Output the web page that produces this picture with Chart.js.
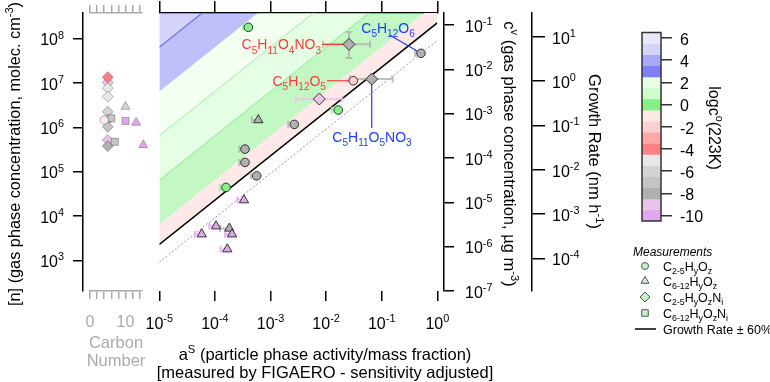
<!DOCTYPE html>
<html>
<head>
<meta charset="utf-8">
<script src="https://cdn.jsdelivr.net/npm/chart.js@4.4.1/dist/chart.umd.min.js"></script>
<style>
  html, body { margin: 0; padding: 0; background: #fff; }
  #wrap { position: relative; width: 770px; height: 382px; overflow: hidden; }
  canvas { position: absolute; left: 0; top: 0; }
</style>
</head>
<body>
<div id="wrap">
  <canvas id="carbon" width="770" height="382"></canvas>
  <canvas id="main" width="770" height="382"></canvas>
  <canvas id="cbar" width="770" height="382"></canvas>
</div>
<script>
// ---------------- values ----------------

// colour classes: log10 c° at 223 K
const classValues = [6, 5, 4, 3, 2, 1, 0, -1, -2, -3, -4, -5, -6, -7, -8, -9, -10];
const classColors = ['#e8e8fc', '#d5d5fa', '#a8a8f8', '#8080f4', '#e8ffe4', '#ccffcc', '#88f088',
                     '#ffe8e8', '#ffd0d0', '#ffa8a8', '#ff8080', '#e8e8e8', '#d4d4d4', '#c4c4c4',
                     '#b0b0b0', '#e8c4ec', '#e0a8ec'];
const classTicks = [6, 4, 2, 0, -2, -4, -6, -8, -10];

// axes
const aTicks = [1e-5, 1e-4, 1e-3, 1e-2, 1e-1, 1];
const cvTicks = [1e-7, 1e-6, 1e-5, 1e-4, 1e-3, 1e-2, 1e-1];
const grTicks = [1e-4, 1e-3, 1e-2, 1e-1, 1, 10];
const nTicks = [1e3, 1e4, 1e5, 1e6, 1e7, 1e8];
const carbonTicks = [0, 2, 4, 6, 8, 10, 12, 14];
const carbonLabels = [0, 10];
const cvMin = 1e-7, cvMax = 0.1866;
const grPerCv = 184;     // growth rate axis = c^v * 184
const nPerCv = 2.04e9;   // [n] axis = c^v * 2.04e9

// shaded bands: log10 c° boundaries and the class above each boundary
const bandEdges = [3.5, 2.5, 1.5, 0.5, -0.5];
const bandClasses = [4, 3, 2, 1, 0];
const bandLineColors = ['#6f6ff2', 'rgba(0,0,0,0)', '#b8f2b8', '#a4eea4', 'rgba(0,0,0,0)'];
const growthLogC = -0.95;
const growthSpread = [1.6, 0.4];   // +/- 60 %

// measurements, main panel (a^S, c^v)
const circA   = [4.0e-4, 0.509, 0.0308, 0.01656, 0.00268, 3.48e-4, 3.48e-4, 5.65e-4, 1.585e-4];
const circCv  = [0.0887, 0.0230, 0.00553, 0.001205, 5.73e-4, 1.59e-4, 7.96e-5, 3.96e-5, 2.17e-5];
const circCls = [0, -8, -2, 0, -8, -8, -8, -8, 0];
const circALo = [3.24e-4, 0.398, 0.0234, 0.01262, 0.00209, 2.75e-4, 2.75e-4, 4.41e-4, 1.236e-4];

const triA   = [6.04e-4, 3.33e-4, 1.047e-4, 1.816e-4, 5.79e-5, 2.03e-4, 1.67e-4];
const triCv  = [7.18e-4, 1.122e-5, 2.90e-6, 2.58e-6, 1.91e-6, 1.91e-6, 8.79e-7];
const triCls = [-8, -10, -10, -8, -10, -10, -10];
const triALo = [4.59e-4, 2.53e-4, 7.93e-5, 1.236e-4, 4.39e-5, 1.52e-4, 1.27e-4];

const diaA    = [0.0258, 0.0661, 0.00755];
const diaCv   = [0.0366, 0.00604, 0.00214];
const diaCls  = [-8, -8, -9];
const diaALo  = [0.00879, 0.0269, 0.00284];
const diaAHi  = [0.0617, 0.158, 0.0195];
const diaCvLo = [0.0180, null, null];
const diaCvHi = [0.0695, null, null];

// compound tags
const tagTexts  = ['C_{5}H_{11}O_{4}NO_{3}', 'C_{5}H_{12}O_{5}', 'C_{5}H_{12}O_{6}', 'C_{5}H_{11}O_{5}NO_{3}'];
const tagColors = ['#ff3c3c', '#ff3c3c', '#1f3fff', '#1f3fff'];
const tagAlign  = ['right', 'right', 'center', 'center'];
const tagAt     = [[0.00809, 0.0366], [0.00995, 0.00553], [0.130, 0.0856], [0.0670, 2.96e-4]];
const tagFrom   = [[0.00843, 0.0366], [0.01038, 0.00553], [0.139, 0.0594], [0.0661, 4.73e-4]];
const tagTo     = [[0.0258, 0.0366], [0.0308, 0.00553], [0.509, 0.0230], [0.0661, 0.00604]];

// carbon number panel
const cDiaC   = [5, 5, 5, 5, 5, 5, 5, 5, 5];
const cDiaN   = [1.03e7, 1.36e7, 7.67e6, 4.95e6, 2.26e6, 1.47e6, 1.04e6, 5.19e5, 3.79e5];
const cDiaCls = [-9, -4, -5, -5, -6, -7, -7, -9, -8];
const cSqC    = [6, 7, 10];
const cSqN    = [1.607e6, 4.74e5, 1.40e6];
const cSqCls  = [-7, -7, -10];
const cTriC   = [10, 13, 15];
const cTriN   = [2.94e6, 1.28e6, 4.0e5];
const cTriCls = [-6, -10, -10];
const cCircC   = [4];
const cCircN   = [1.47e6];
const cCircCls = [-1];

// legend
const legendStyles = ['circle', 'triangle', 'rectRot', 'rect'];
const legendRadii  = [3.5, 4.6, 5, 4.6];
const legendTexts  = ['C_{2-5}H_{y}O_{z}', 'C_{6-12}H_{y}O_{z}', 'C_{2-5}H_{y}O_{z}N_{i}', 'C_{6-12}H_{y}O_{z}N_{i}'];

// ---------------- helpers ----------------
const FONT = '"Liberation Sans", Arial, Helvetica, sans-serif';
Chart.defaults.font.family = FONT;
Chart.defaults.animation = false;
Chart.defaults.plugins.legend.display = false;
Chart.defaults.plugins.tooltip.enabled = false;

function classColor(v) { return classColors[classValues.indexOf(v)]; }
function fade(hex, alpha) {
  const n = parseInt(hex.slice(1), 16);
  return 'rgba(' + (n >> 16) + ',' + ((n >> 8) & 255) + ',' + (n & 255) + ',' + alpha + ')';
}
function exp10(v) { return '10^{' + Math.round(Math.log10(v)) + '}'; }

// text with _{sub} and ^{sup}
function richParts(s) {
  const parts = [];
  let i = 0, buf = '';
  while (i < s.length) {
    const ch = s[i];
    if ((ch === '_' || ch === '^') && s[i + 1] === '{') {
      if (buf) { parts.push({ t: buf, m: 0 }); buf = ''; }
      const end = s.indexOf('}', i);
      parts.push({ t: s.slice(i + 2, end), m: ch === '_' ? -1 : 1 });
      i = end + 1;
    } else { buf += ch; i++; }
  }
  if (buf) parts.push({ t: buf, m: 0 });
  return parts;
}
function drawRich(ctx, s, x, y, o) {
  const size = o.size || 16, small = size * (o.ratio || 0.68);
  const style = o.italic ? 'italic ' : '';
  const parts = richParts(s);
  let w = 0;
  parts.forEach(p => {
    ctx.font = style + (p.m ? small : size) + 'px ' + FONT;
    p.w = ctx.measureText(p.t).width;
    w += p.w;
  });
  ctx.save();
  ctx.translate(x, y);
  if (o.rot) ctx.rotate(o.rot);
  ctx.fillStyle = o.color || '#000';
  ctx.textAlign = 'left';
  ctx.textBaseline = 'alphabetic';
  let cx = o.align === 'right' ? -w : (o.align === 'center' ? -w / 2 : 0);
  const base = size * 0.36;
  parts.forEach(p => {
    ctx.font = style + (p.m ? small : size) + 'px ' + FONT;
    const dy = p.m === 1 ? -size * 0.42 : (p.m === -1 ? size * 0.3 : 0);
    ctx.fillText(p.t, cx, base + dy);
    cx += p.w;
  });
  ctx.restore();
}
function fixedTicks(values) { return axis => { axis.ticks = values.map(v => ({ value: v })); }; }
function pts(xs, ys) { return xs.map((x, i) => ({ x: x, y: ys[i] })); }

// ---------------- main panel ----------------
const aEnds = [aTicks[0], aTicks[aTicks.length - 1]];
function isopleth(logC) { return aEnds.map(a => ({ x: a, y: a * Math.pow(10, logC) })); }

const markerSets = [
  { a: diaA, cv: diaCv, cls: diaCls, aLo: diaALo, aHi: diaAHi, cvLo: diaCvLo, cvHi: diaCvHi },
  { a: triA, cv: triCv, cls: triCls, aLo: triALo },
  { a: circA, cv: circCv, cls: circCls, aLo: circALo }
];

const mainSets = bandEdges.map((e, i) => ({
  type: 'line', data: isopleth(e), borderColor: bandLineColors[i], borderWidth: 1.2,
  backgroundColor: fade(classColor(bandClasses[i]), 0.5), fill: i === 0 ? 'end' : '-1',
  pointRadius: 0, order: 3
}));
mainSets.push({
  type: 'line', data: isopleth(growthLogC), borderColor: '#000', borderWidth: 1.6,
  backgroundColor: classColor(-1), fill: '-1', pointRadius: 0, order: 2
});
growthSpread.forEach(f => mainSets.push({
  type: 'line', data: isopleth(growthLogC + Math.log10(f)), borderColor: '#999', borderWidth: 1,
  borderDash: [2, 2], fill: false, pointRadius: 0, order: 2
}));
mainSets.push({
  type: 'scatter', data: pts(circA, circCv), pointStyle: 'circle', pointRadius: 4.3,
  pointBackgroundColor: circCls.map(classColor), pointBorderColor: '#333', pointBorderWidth: 1, order: 0
});
mainSets.push({
  type: 'scatter', data: pts(triA, triCv), pointStyle: 'triangle', pointRadius: 5.4,
  pointBackgroundColor: triCls.map(classColor), pointBorderColor: '#333', pointBorderWidth: 1, order: 0
});
mainSets.push({
  type: 'scatter', data: pts(diaA, diaCv), pointStyle: 'rectRot', pointRadius: 6,
  pointBackgroundColor: diaCls.map(classColor), pointBorderColor: '#333', pointBorderWidth: 1,
  order: 0, underlay: true
});
mainSets.forEach(d => { d.xAxisID = 'x'; d.yAxisID = 'y'; });

const mainDecor = {
  id: 'mainDecor',
  beforeDatasetDraw(chart, args) {
    if (!chart.data.datasets[args.index].underlay) return;
    const ctx = chart.ctx, xs = chart.scales.x, ys = chart.scales.y;
    ctx.save();
    ctx.lineWidth = 2;
    markerSets.forEach(set => {
      set.a.forEach((a, i) => {
        const px = xs.getPixelForValue(a), py = ys.getPixelForValue(set.cv[i]);
        const x0 = xs.getPixelForValue(set.aLo[i]);
        const x1 = set.aHi ? xs.getPixelForValue(set.aHi[i]) : px;
        ctx.strokeStyle = fade(classColor(set.cls[i]), 0.8);
        ctx.beginPath();
        ctx.moveTo(x0, py); ctx.lineTo(x1, py);
        ctx.moveTo(x0, py - 3.5); ctx.lineTo(x0, py + 3.5);
        if (set.aHi) { ctx.moveTo(x1, py - 3.5); ctx.lineTo(x1, py + 3.5); }
        if (set.cvLo && set.cvLo[i] !== null) {
          const y0 = ys.getPixelForValue(set.cvLo[i]), y1 = ys.getPixelForValue(set.cvHi[i]);
          ctx.moveTo(px, y0); ctx.lineTo(px, y1);
          ctx.moveTo(px - 3.5, y0); ctx.lineTo(px + 3.5, y0);
          ctx.moveTo(px - 3.5, y1); ctx.lineTo(px + 3.5, y1);
        }
        ctx.stroke();
      });
    });
    ctx.lineWidth = 1.2;
    tagFrom.forEach((f, i) => {
      ctx.strokeStyle = tagColors[i];
      ctx.beginPath();
      ctx.moveTo(xs.getPixelForValue(f[0]), ys.getPixelForValue(f[1]));
      ctx.lineTo(xs.getPixelForValue(tagTo[i][0]), ys.getPixelForValue(tagTo[i][1]));
      ctx.stroke();
    });
    ctx.restore();
  },
  afterDraw(chart) {
    const ctx = chart.ctx, xs = chart.scales.x, ys = chart.scales.y, gr = chart.scales.gr;
    tagTexts.forEach((t, i) => {
      drawRich(ctx, t, xs.getPixelForValue(tagAt[i][0]), ys.getPixelForValue(tagAt[i][1]),
        { size: 14, ratio: 0.72, align: tagAlign[i], color: tagColors[i] });
    });
    aTicks.forEach(v => drawRich(ctx, exp10(v), xs.getPixelForValue(v), 323, { size: 16, align: 'center' }));
    cvTicks.forEach(v => drawRich(ctx, exp10(v), ys.left + 21, ys.getPixelForValue(v) + 1, { size: 16 }));
    grTicks.forEach(v => drawRich(ctx, exp10(v), gr.left + 20, gr.getPixelForValue(v) + 1, { size: 16 }));
    drawRich(ctx, 'c^{v} (gas phase concentration, µg m^{-3})', 510, 154, { size: 16.5, align: 'center', rot: Math.PI / 2 });
    drawRich(ctx, 'Growth Rate (nm h^{-1})', 595, 151.5, { size: 16.5, align: 'center', rot: Math.PI / 2 });
    drawRich(ctx, 'a^{S} (particle phase activity/mass fraction)', 325, 354, { size: 16.5, align: 'center' });
    drawRich(ctx, '[measured by FIGAERO - sensitivity adjusted]', 325, 372, { size: 16.5, align: 'center' });
  }
};

new Chart(document.getElementById('main'), {
  type: 'scatter',
  data: { datasets: mainSets },
  options: {
    responsive: false,
    devicePixelRatio: 1,
    layout: { padding: { left: 159.3, top: 0.5, right: 138, bottom: 0 } },
    scales: {
      x: {
        type: 'logarithmic', position: 'bottom', min: aTicks[0], max: aTicks[aTicks.length - 1],
        afterBuildTicks: fixedTicks(aTicks), ticks: { display: false },
        grid: { drawOnChartArea: false, tickLength: 10, color: '#000', lineWidth: 1.5 },
        border: { display: false },
        afterFit: s => { s.height = 91; }
      },
      xTop: {
        type: 'logarithmic', position: 'top', min: aTicks[0], max: aTicks[aTicks.length - 1],
        afterBuildTicks: fixedTicks(aTicks), ticks: { display: false },
        grid: { drawOnChartArea: false, tickLength: 12, color: '#000', lineWidth: 1.5 },
        border: { display: true, color: '#000', width: 1.5 },
        afterFit: s => { s.height = 12.5; }
      },
      y: {
        type: 'logarithmic', position: 'right', weight: 1, min: cvMin, max: cvMax,
        afterBuildTicks: fixedTicks(cvTicks), ticks: { display: false },
        grid: { drawOnChartArea: false, tickLength: 10, color: '#000', lineWidth: 1.5 },
        border: { display: true, color: '#000', width: 1.5 },
        afterFit: s => { s.width = 88; }
      },
      gap: {
        type: 'linear', position: 'right', weight: 0,
        grid: { display: false }, ticks: { display: false }, border: { display: false },
        afterFit: s => { s.width = 6.7; }
      },
      gr: {
        type: 'logarithmic', position: 'right', weight: 2, min: cvMin * grPerCv, max: cvMax * grPerCv,
        afterBuildTicks: fixedTicks(grTicks), ticks: { display: false },
        grid: { drawOnChartArea: false, tickLength: 13, color: '#000', lineWidth: 1.5 },
        border: { display: true, color: '#000', width: 1.5 },
        afterFit: s => { s.width = 100; }
      }
    }
  },
  plugins: [mainDecor]
});

// ---------------- carbon number panel ----------------
const carbonDecor = {
  id: 'carbonDecor',
  afterDraw(chart) {
    const ctx = chart.ctx, xs = chart.scales.x, ys = chart.scales.y;
    nTicks.forEach(v => drawRich(ctx, exp10(v), 64, ys.getPixelForValue(v) + 1, { size: 16, align: 'right' }));
    drawRich(ctx, '[n] (gas phase concentration, molec. cm^{-3})', 14, 154, { size: 16.3, align: 'center', rot: -Math.PI / 2 });
    carbonLabels.forEach(v => drawRich(ctx, String(v), xs.getPixelForValue(v), 321, { size: 16, align: 'center', color: '#aaa' }));
    drawRich(ctx, 'Carbon', 116, 342, { size: 16.5, align: 'center', color: '#aaa' });
    drawRich(ctx, 'Number', 116, 360, { size: 16.5, align: 'center', color: '#aaa' });
  }
};
const cBorder = 'rgba(0,0,0,0.28)';
const carbonSets = [
  { data: pts(cCircC, cCircN), pointStyle: 'circle', pointRadius: 4.3, pointBackgroundColor: cCircCls.map(classColor) },
  { data: pts(cSqC, cSqN), pointStyle: 'rect', pointRadius: 5, pointBackgroundColor: cSqCls.map(classColor) },
  { data: pts(cTriC, cTriN), pointStyle: 'triangle', pointRadius: 5.2, pointBackgroundColor: cTriCls.map(classColor) },
  { data: pts(cDiaC, cDiaN), pointStyle: 'rectRot', pointRadius: 5.5, pointBackgroundColor: cDiaCls.map(classColor) }
];
carbonSets.forEach(d => { d.pointBorderColor = cBorder; d.clip = false; d.xAxisID = 'x'; d.yAxisID = 'y'; });

new Chart(document.getElementById('carbon'), {
  type: 'scatter',
  data: { datasets: carbonSets },
  options: {
    responsive: false,
    devicePixelRatio: 1,
    layout: { padding: { left: 0, top: 0.5, right: 628, bottom: 0 } },
    scales: {
      x: {
        type: 'linear', position: 'bottom', min: 0, max: 14.65,
        afterBuildTicks: fixedTicks(carbonTicks), ticks: { display: false },
        grid: { drawOnChartArea: false, tickLength: 8, color: '#aaa', lineWidth: 1.5 },
        border: { display: true, color: '#aaa', width: 1.5 },
        afterFit: s => { s.height = 91; }
      },
      xTop: {
        type: 'linear', position: 'top', min: 0, max: 14.65,
        afterBuildTicks: fixedTicks(carbonTicks), ticks: { display: false },
        grid: { drawOnChartArea: false, tickLength: 8, color: '#aaa', lineWidth: 1.5 },
        border: { display: true, color: '#aaa', width: 1.5 },
        afterFit: s => { s.height = 12.5; }
      },
      y: {
        type: 'logarithmic', position: 'left', weight: 1, min: cvMin * nPerCv, max: cvMax * nPerCv,
        afterBuildTicks: fixedTicks(nTicks), ticks: { display: false },
        grid: { drawOnChartArea: false, tickLength: 10, color: '#000', lineWidth: 1.5 },
        border: { display: true, color: '#000', width: 1.5 },
        afterFit: s => { s.width = 83; }
      },
      gap: {
        type: 'linear', position: 'left', weight: 0,
        grid: { display: false }, ticks: { display: false }, border: { display: false },
        afterFit: s => { s.width = 7; }
      }
    }
  },
  plugins: [carbonDecor]
});

// ---------------- colour bar + legend ----------------
const cbarDecor = {
  id: 'cbarDecor',
  afterDraw(chart) {
    const ctx = chart.ctx, ca = chart.chartArea, ys = chart.scales.y;
    ctx.save();
    ctx.strokeStyle = '#333';
    ctx.lineWidth = 1.5;
    ctx.strokeRect(ca.left, ca.top, ca.right - ca.left, ca.bottom - ca.top);
    ctx.restore();
    classTicks.forEach(v => drawRich(ctx, String(v), 680, ys.getPixelForValue(v) + 1, { size: 16 }));
    drawRich(ctx, 'logc^{o}(223K)', 715, 128, { size: 16, align: 'center', rot: Math.PI / 2 });

    drawRich(ctx, 'Measurements', 633, 252, { size: 12, italic: true });
    const rowY = [266, 281, 297, 313];
    legendStyles.forEach((st, i) => {
      ctx.save();
      ctx.fillStyle = '#c4f4c4';
      ctx.strokeStyle = '#555';
      Chart.helpers.drawPoint(ctx, { pointStyle: st, radius: legendRadii[i], borderWidth: 1, rotation: 0 }, 645, rowY[i]);
      ctx.restore();
      drawRich(ctx, legendTexts[i], 663, rowY[i], { size: 12.5, ratio: 0.7 });
    });
    ctx.save();
    ctx.strokeStyle = '#000';
    ctx.lineWidth = 1.5;
    ctx.beginPath(); ctx.moveTo(635, 329); ctx.lineTo(656, 329); ctx.stroke();
    ctx.restore();
    drawRich(ctx, 'Growth Rate ± 60%', 663, 329, { size: 12.5 });
  }
};
new Chart(document.getElementById('cbar'), {
  type: 'bar',
  data: {
    labels: ['c°'],
    datasets: classValues.map(v => ({
      data: [[v - 0.5, v + 0.5]], backgroundColor: classColor(v), borderWidth: 0,
      grouped: false, barPercentage: 1, categoryPercentage: 1
    }))
  },
  options: {
    responsive: false,
    devicePixelRatio: 1,
    layout: { padding: { left: 642, top: 32.5, right: 59, bottom: 161 } },
    scales: {
      x: { display: false },
      y: {
        type: 'linear', position: 'right', min: -10.5, max: 6.5,
        afterBuildTicks: fixedTicks(classTicks), ticks: { display: false },
        grid: { drawOnChartArea: false, tickLength: 11, color: '#333', lineWidth: 1.5 },
        border: { display: false },
        afterFit: s => { s.width = 50; }
      }
    }
  },
  plugins: [cbarDecor]
});
</script>
</body>
</html>
